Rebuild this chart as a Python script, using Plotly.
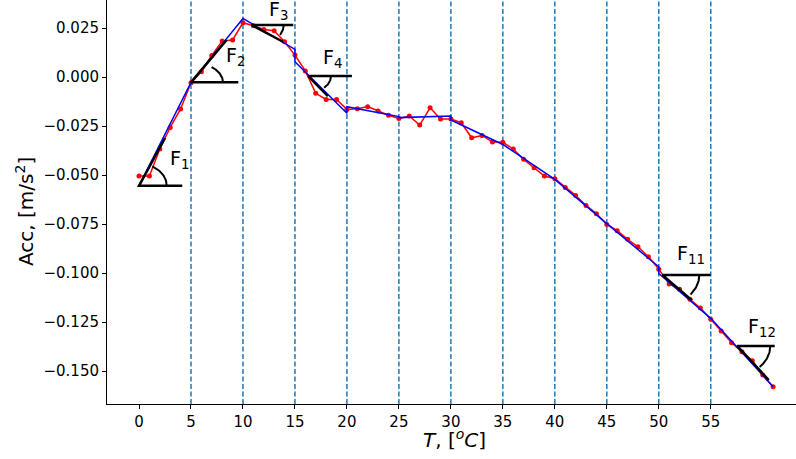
import numpy as np
import plotly.graph_objects as go

# ---- data ----
T = list(range(0, 62))
ACC = [-0.0505, -0.0505, -0.0367, -0.0257, -0.0163, -0.0029, 0.0027, 0.0110, 0.0184, 0.0189,
       0.0277, 0.0262, 0.0243, 0.0236, 0.0180, 0.0112, 0.0031, -0.0083, -0.0114, -0.0114,
       -0.0165, -0.0162, -0.0151, -0.0173, -0.0195, -0.0212, -0.0199, -0.0245, -0.0157, -0.0214,
       -0.0214, -0.0233, -0.0310, -0.0298, -0.0332, -0.0333, -0.0367, -0.0420, -0.0463, -0.0505,
       -0.0519, -0.0563, -0.0604, -0.0655, -0.0697, -0.0752, -0.0784, -0.0828, -0.0866, -0.0917,
       -0.0980, -0.1056, -0.1083, -0.1134, -0.1178, -0.1236, -0.1296, -0.1356, -0.1402, -0.1447,
       -0.1520, -0.1580]

FIT_BREAKS = [0, 5, 10, 15, 20, 25, 30, 35, 40, 45, 50, 55, 61]
FIT_START = [-0.0555, -0.0027, 0.0299, 0.0078, -0.0151, -0.0207, -0.0219, -0.0344, -0.0522, -0.0748, -0.1002, -0.1231]
FIT_END = [-0.0027, 0.0299, 0.0141, -0.0185, -0.0202, -0.0199, -0.0344, -0.0522, -0.0748, -0.0968, -0.1231, -0.1580]

VLINES = [5, 10, 15, 20, 25, 30, 35, 40, 45, 50, 55]
XTICKS = [0, 5, 10, 15, 20, 25, 30, 35, 40, 45, 50, 55]
YTICKS = [0.025, 0.0, -0.025, -0.050, -0.075, -0.100, -0.125, -0.150]

# angle markers: labels, vertex, tangent end, horizontal end
ANG_LABELS = ["F<sub>1</sub>", "F<sub>2</sub>", "F<sub>3</sub>", "F<sub>4</sub>", "F<sub>11</sub>", "F<sub>12</sub>"]
ANG_T0 = [0.0, 5.0, 10.84, 16.28, 50.34, 57.55]
ANG_V0 = [-0.0555, -0.0027, 0.0265, 0.0005, -0.1010, -0.1372]
ANG_T1 = [2.50, 8.43, 13.85, 18.17, 53.17, 60.58]
ANG_V1 = [-0.0311, 0.0189, 0.0180, -0.0097, -0.1138, -0.1546]
ANG_TH = [4.16, 9.55, 14.84, 20.48, 54.97, 61.15]
ARC_RX = [27.7, 32.0, 32.0, 22.7, 37.0, 33.0]   # px
ARC_RY = [22.0, 20.0, 21.0, 16.5, 30.0, 28.5]   # px
LBL_T = [2.76, 8.2, 12.27, 17.5, 51.6, 58.4]
LBL_V = [-0.0423, 0.0106, 0.0342, 0.0095, -0.0903, -0.1278]

# ---- layout geometry ----
W, H = 796, 459
ML, MR, MT, MB = 107, 0, 0, 55
XR = [-3.08, 63.2]
YR = [-0.1668, 0.0393]
SX = (W - ML - MR) / (XR[1] - XR[0])
SY = (H - MT - MB) / (YR[1] - YR[0])

fig = go.Figure()

fig.add_trace(go.Scatter(x=T, y=ACC, mode="lines+markers",
                         line=dict(color="red", width=1.5),
                         marker=dict(color="red", size=5), showlegend=False))

bx, by = [], []
for i in range(len(FIT_START)):
    bx += [FIT_BREAKS[i], FIT_BREAKS[i + 1]]
    by += [FIT_START[i], FIT_END[i]]
fig.add_trace(go.Scatter(x=bx, y=by, mode="lines",
                         line=dict(color="blue", width=1.5), showlegend=False))

for i in range(len(ANG_LABELS)):
    t0, v0 = ANG_T0[i], ANG_V0[i]
    fig.add_trace(go.Scatter(x=[ANG_TH[i], t0, ANG_T1[i]], y=[v0, v0, ANG_V1[i]], mode="lines",
                             line=dict(color="black", width=2.5), showlegend=False))
    th = np.arctan2((ANG_V1[i] - v0) * SY, (ANG_T1[i] - t0) * SX)
    ts = np.linspace(0, th, 40)
    ax = t0 + ARC_RX[i] * np.cos(ts) / SX
    ay = v0 + ARC_RY[i] * np.sin(ts) / SY
    fig.add_trace(go.Scatter(x=ax, y=ay, mode="lines",
                             line=dict(color="black", width=2), showlegend=False))
    fig.add_annotation(x=LBL_T[i], y=LBL_V[i], text=ANG_LABELS[i], showarrow=False,
                       xanchor="left", yanchor="middle",
                       font=dict(family="DejaVu Sans", size=19, color="black"))

for v in VLINES:
    fig.add_shape(type="line", x0=v, x1=v, y0=0, y1=1, xref="x", yref="paper",
                  line=dict(color="#1f77b4", width=1.5, dash="5px,2.5px"), layer="below")

fig.add_annotation(xref="paper", yref="paper", x=(25 - ML) / (W - ML - MR), y=1 - (212 - MT) / (H - MT - MB),
                   text="Acc, [m/s<sup>2</sup>]", textangle=-90, showarrow=False,
                   xanchor="center", yanchor="middle",
                   font=dict(family="DejaVu Sans", size=20, color="black"))
fig.add_annotation(xref="paper", yref="paper", x=(454 - ML) / (W - ML - MR), y=-(439 - (H - MB)) / (H - MT - MB),
                   text="<i>T</i>, [<sup><i>o</i></sup><i>C</i>]", showarrow=False,
                   xanchor="center", yanchor="middle",
                   font=dict(family="DejaVu Sans", size=20, color="black"))

fig.update_layout(
    width=W, height=H, margin=dict(l=ML, r=MR, t=MT, b=MB, pad=0, autoexpand=False),
    paper_bgcolor="white", plot_bgcolor="white",
    font=dict(family="DejaVu Sans", size=15, color="black"),
    xaxis=dict(range=XR, tickvals=XTICKS, ticktext=[str(v) for v in XTICKS], automargin=False,
               showgrid=False, zeroline=False, showline=True, linecolor="black", linewidth=1,
               ticks="outside", ticklen=4, tickcolor="black"),
    yaxis=dict(range=YR, tickvals=YTICKS, tickformat=".3f", automargin=False,
               showgrid=False, zeroline=False, showline=True, linecolor="black", linewidth=1,
               ticks="outside", ticklen=4, tickcolor="black"),
)

fig.write_html("out.html", config={"displayModeBar": False},
               post_script="document.body.style.margin='0px';document.body.style.overflow='hidden';")
